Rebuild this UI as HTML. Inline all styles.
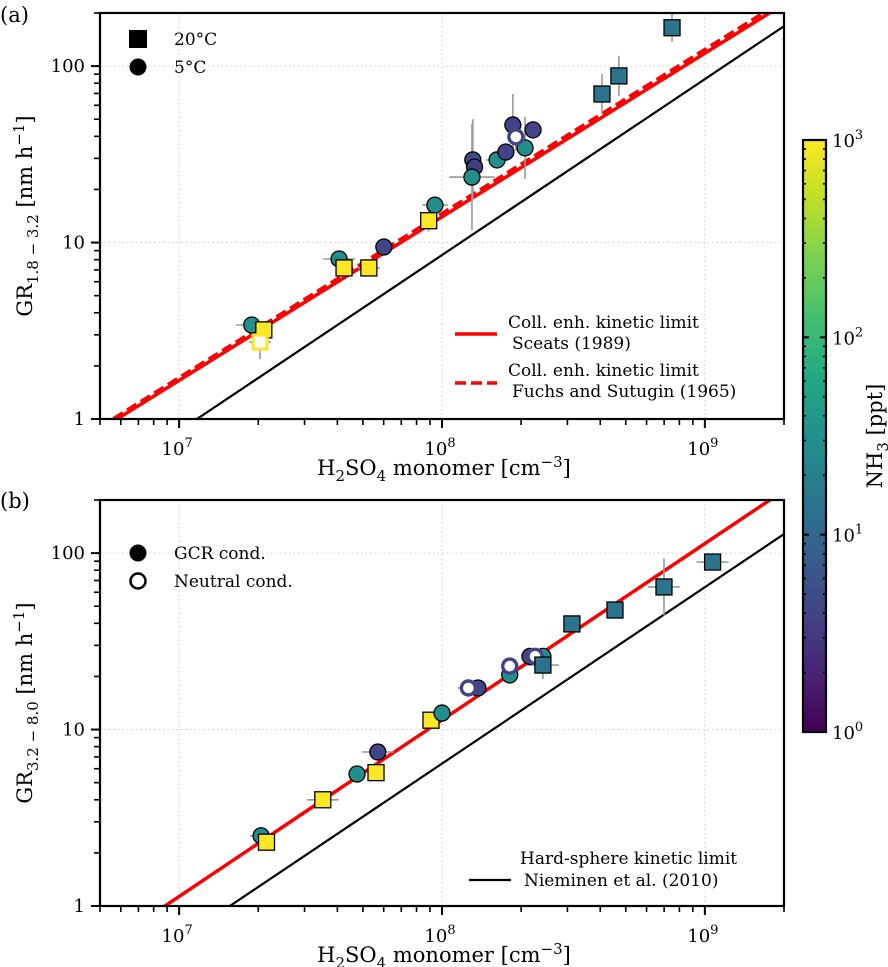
<!DOCTYPE html>
<html><head><meta charset="utf-8"><style>
body{margin:0;background:#fff;width:888px;height:967px;overflow:hidden}
svg{display:block;font-family:"DejaVu Serif","Liberation Serif",serif}
</style></head><body>
<svg id="chart" width="888" height="967" viewBox="0 0 888 967" xmlns="http://www.w3.org/2000/svg"></svg>
<script>
// ---- Panel (a) data ----
const aX=[1.89e7,2.10e7,2.03e7,4.06e7,4.24e7,5.27e7,6.01e7,9.4e7,8.9e7,1.31e8,1.33e8,1.30e8,1.62e8,1.75e8,1.86e8,2.22e8,2.07e8,1.91e8,4.06e8,4.71e8,7.5e8];
const aY=[3.41,3.2,2.73,8.07,7.18,7.18,9.44,16.3,13.3,29.4,26.8,23.5,29.4,32.6,46.4,43.5,34.4,39.7,69.5,88,165];
const aNH3=[30,1000,1000,30,1000,1000,4,30,1000,5,3.5,30,30,4,4,4,30,4,14,14,14];
const aShape=["c","s","s","c","s","s","c","c","s","c","c","c","c","c","c","c","c","c","s","s","s"];
const aOpen=[0,0,1,0,0,0,0,0,0,0,0,0,0,0,0,0,0,1,0,0,0];
const aXErr=[1.15,0,1.1,1.15,0,1.1,1.08,1.12,0,1.05,0,1.22,1.1,0,0,0,0,1.05,1.08,0,0];
const aYErr=[0,0,1.25,1.1,1.1,0,1.12,0,1.15,1.7,0,2.0,0,1.1,1.5,0,1.5,1.2,1.3,1.3,1.2];
// ---- Panel (b) data ----
const bX=[2.05e7,2.15e7,3.52e7,4.75e7,5.61e7,5.70e7,9.08e7,1.0e8,1.37e8,1.26e8,1.81e8,1.81e8,2.16e8,2.42e8,2.26e8,2.42e8,3.12e8,4.55e8,6.99e8,1.07e9];
const bY=[2.5,2.3,4.0,5.6,5.7,7.46,11.3,12.4,17.2,17.2,20.4,22.9,26,26,26,23.2,39.7,47.6,64.3,89];
const bNH3=[30,1000,1000,30,1000,4,1000,30,4,4,30,4,4,30,4,14,14,14,14,14];
const bShape=["c","s","s","c","s","c","s","c","c","c","c","c","c","c","c","s","s","s","s","s"];
const bOpen=[0,0,0,0,0,0,0,0,0,1,0,1,0,0,1,0,0,0,0,0];
const bXErr=[1.1,0,1.15,0,0,1.15,0,0,1.05,1.1,1.05,1.08,1.05,0,0,1.15,0,1.08,1.15,1.15];
const bYErr=[1.1,0,0,0,0,0,0,0,1.05,0,1.08,0,0,0,0,1.2,0,0,1.45,0];
// ---- Kinetic limit lines: [log10 x where y=1, slope] ----
const lineRedA=[6.764,0.927];
const lineRedDashA=[6.748,0.93];
const lineBlackA=[7.068,0.997];
const lineRedB=[6.946,1.0];
const lineBlackB=[7.193,1.0];
const cbTicks=["10","10","10","10"];
const cbExp=["0","1","2","3"];

const svg=document.getElementById('chart');
const NS="http://www.w3.org/2000/svg";
function mk(tag,attrs,parent){const e=document.createElementNS(NS,tag);for(const k in attrs)e.setAttribute(k,attrs[k]);(parent||svg).appendChild(e);return e;}
const X0=100,X1=784,lx0=Math.log10(5e6),lx1=Math.log10(2e9);
const sx=v=>X0+(Math.log10(v)-lx0)/(lx1-lx0)*(X1-X0);
const H=406,ly1=Math.log10(200);
const syF=T=>v=>T+H-Math.log10(v)/ly1*H;
const stops=["#440154","#482475","#414487","#355f8d","#2a788e","#21918c","#22a884","#44bf70","#7ad151","#bddf26","#fde725"];
function hex(h){return [1,3,5].map(i=>parseInt(h.substr(i,2),16));}
function vir(n){let t=Math.max(0,Math.min(1,Math.log10(n)/3))*10;const i=Math.min(9,Math.floor(t)),f=t-i;const a=hex(stops[i]),b=hex(stops[i+1]);return "rgb("+a.map((v,k)=>Math.round(v+(b[k]-v)*f)).join(",")+")";}

function panel(T,name,X,Y,N,S,O,XE,YE,lines){
  const sy=syF(T);
  const g=mk('g',{});
  
  
  [1e7,1e8,1e9].forEach(v=>{const l=mk('line',{x1:sx(v),x2:sx(v),y1:T,y2:T+H,stroke:'#ccc','stroke-width':1,'stroke-dasharray':'1.5,3'},g);});
  [10,100].forEach(v=>{const l=mk('line',{x1:X0,x2:X1,y1:sy(v),y2:sy(v),stroke:'#ccc','stroke-width':1,'stroke-dasharray':'1.5,3'},g);});
  const clip=mk('clipPath',{id:'clip'+name},g);mk('rect',{x:X0,y:T,width:X1-X0,height:H},clip);
  const cg=mk('g',{'clip-path':'url(#clip'+name+')'},g);
  lines.forEach(([p,col,dash,nm])=>{
    const xa=5e6,xb=2e9;const ya=Math.pow(10,p[1]*(Math.log10(xa)-p[0])),yb=Math.pow(10,p[1]*(Math.log10(xb)-p[0]));
    const l=mk('line',{x1:sx(xa),y1:sy(ya),x2:sx(xb),y2:sy(yb),stroke:col,'stroke-width':col=='red'?3.5:2.2,'stroke-dasharray':dash||''},cg);
    
  });
  X.forEach((x,i)=>{
    const px=sx(x),py=sy(Y[i]);
    if(XE[i]){const e=mk('line',{x1:sx(x/XE[i]),x2:sx(x*XE[i]),y1:py,y2:py,stroke:'#999','stroke-width':1.6},cg);}
    if(YE[i]){const e=mk('line',{x1:px,x2:px,y1:sy(Y[i]/YE[i]),y2:sy(Y[i]*YE[i]),stroke:'#999','stroke-width':1.6},cg);}
  });
  X.forEach((x,i)=>{
    const px=sx(x),py=sy(Y[i]),c=vir(N[i]);
    let m;
    if(S[i]=='s'){
      m=O[i]?mk('rect',{x:px-7,y:py-7,width:14,height:14,fill:'#fff',stroke:c,'stroke-width':3},cg)
           :mk('rect',{x:px-8,y:py-8,width:16,height:16,fill:c,stroke:'#000','stroke-width':1.3},cg);
    }else{
      m=O[i]?mk('circle',{cx:px,cy:py,r:7,fill:'#fff',stroke:c,'stroke-width':3.4},cg)
           :mk('circle',{cx:px,cy:py,r:8,fill:c,stroke:'#000','stroke-width':1.3},cg);
    }
    
    
  });
  const fr=mk('rect',{x:X0,y:T,width:X1-X0,height:H,fill:'none',stroke:'#000','stroke-width':2.2},g);
  
  for(let e=6;e<=9;e++)for(let k=1;k<10;k++){const v=k*Math.pow(10,e);if(v<5e6||v>2e9)continue;const x=sx(v),maj=k==1;
    const t=mk('line',{x1:x,x2:x,y1:T+H,y2:T+H+(maj?9:6),stroke:'#000','stroke-width':maj?2:1.6},g);
    if(maj){const tx=mk('text',{x:x-2,y:T+H+36,'font-size':18,'text-anchor':'middle'},g);tx.innerHTML='10<tspan dy="-8" font-size="13">'+e+'</tspan>';}}
  for(let e=0;e<=2;e++)for(let k=1;k<10;k++){const v=k*Math.pow(10,e);if(v>200)continue;const y=sy(v),maj=k==1;
    const t=mk('line',{x1:X0-(maj?9:6),x2:X0,y1:y,y2:y,stroke:'#000','stroke-width':maj?2:1.6},g);
    if(maj){const tx=mk('text',{x:X0-15,y:y+6,'font-size':18,'text-anchor':'end'},g);tx.textContent=String(v);}}
  const xl=mk('text',{x:444,y:T+H+56,'font-size':21,'text-anchor':'middle'},g);
  xl.innerHTML='H<tspan dy="6" font-size="15">2</tspan><tspan dy="-6">SO</tspan><tspan dy="6" font-size="15">4</tspan><tspan dy="-6"> monomer [cm</tspan><tspan dy="-8" font-size="15">−3</tspan><tspan dy="8">]</tspan>';
  
  return g;
}
panel(13,'panel-a',aX,aY,aNH3,aShape,aOpen,aXErr,aYErr,[[lineBlackA,'#000','','hard-sphere-line'],[lineRedDashA,'red','11,5','fuchs-sutugin-line'],[lineRedA,'red','','sceats-line']]);
panel(500,'panel-b',bX,bY,bNH3,bShape,bOpen,bXErr,bYErr,[[lineBlackB,'#000','','hard-sphere-line'],[lineRedB,'red','','sceats-line']]);

function txt(x,y,s,html,attrs,name){const t=mk('text',Object.assign({x:x,y:y,'font-size':s},attrs||{}));t.innerHTML=html;return t;}
txt(0,22,21,'(a)',{},'panel-a-label');
txt(0,508,21,'(b)',{},'panel-b-label');
txt(0,0,21,'GR<tspan dy="6" font-size="15">1.8 − 3.2</tspan><tspan dy="-6"> [nm h</tspan><tspan dy="-8" font-size="15">−1</tspan><tspan dy="8">]</tspan>',{transform:'translate(32,216) rotate(-90)','text-anchor':'middle'},'y-axis-title-a');
txt(0,0,21,'GR<tspan dy="6" font-size="15">3.2 − 8.0</tspan><tspan dy="-6"> [nm h</tspan><tspan dy="-8" font-size="15">−1</tspan><tspan dy="8">]</tspan>',{transform:'translate(32,703) rotate(-90)','text-anchor':'middle'},'y-axis-title-b');
let m;
m=mk('rect',{x:129,y:30,width:18,height:18,fill:'#000'});
txt(174,45,17,'20°C',{},'legend-label-20c');
m=mk('circle',{cx:138,cy:67,r:8.5,fill:'#000'});
txt(174,73,17,'5°C',{},'legend-label-5c');
m=mk('line',{x1:455,x2:497,y1:334,y2:334,stroke:'red','stroke-width':3.5});
txt(508,328,17,'Coll. enh. kinetic limit',{},'legend-label-sceats-1');
txt(512,349,17,'Sceats (1989)',{},'legend-label-sceats-2');
m=mk('line',{x1:455,x2:497,y1:383,y2:383,stroke:'red','stroke-width':3.5,'stroke-dasharray':'11,5'});
txt(508,376,17,'Coll. enh. kinetic limit',{},'legend-label-fuchs-1');
txt(512,397,17,'Fuchs and Sutugin (1965)',{},'legend-label-fuchs-2');
m=mk('circle',{cx:138,cy:553,r:8.5,fill:'#000'});
txt(174,559,17,'GCR cond.',{},'legend-label-gcr');
m=mk('circle',{cx:138,cy:581,r:7.5,fill:'#fff',stroke:'#000','stroke-width':2.5});
txt(174,587,17,'Neutral cond.',{},'legend-label-neutral');
m=mk('line',{x1:469,x2:511,y1:880,y2:880,stroke:'#000','stroke-width':2.2});
txt(520,864,17,'Hard-sphere kinetic limit',{},'legend-label-nieminen-1');
txt(524,886,17,'Nieminen et al. (2010)',{},'legend-label-nieminen-2');
// colorbar
const defs=mk('defs',{});const lg=mk('linearGradient',{id:'vg',x1:0,y1:1,x2:0,y2:0},defs);
stops.forEach((c,i)=>mk('stop',{offset:(i/10),'stop-color':c},lg));
m=mk('rect',{x:803,y:140,width:23,height:592,fill:'url(#vg)',stroke:'#000','stroke-width':2.2});
const cbY=v=>732-v/3*592;
for(let e=0;e<3;e++)for(let k=2;k<10;k++){const y=cbY(e+Math.log10(k));
  m=mk('line',{x1:803,x2:806,y1:y,y2:y,stroke:'#000','stroke-width':1.6});
  m=mk('line',{x1:823,x2:826,y1:y,y2:y,stroke:'#000','stroke-width':1.6});}
for(let e=0;e<=3;e++){const y=cbY(e);
  m=mk('line',{x1:803,x2:809,y1:y,y2:y,stroke:'#000','stroke-width':2});
  m=mk('line',{x1:820,x2:826,y1:y,y2:y,stroke:'#000','stroke-width':2});}
cbExp.forEach((ex,i)=>{txt(832,cbY(i)+7,18,cbTicks[i]+'<tspan dy="-8" font-size="13">'+ex+'</tspan>',{},'colorbar-tick-label');});
txt(0,0,21,'NH<tspan dy="6" font-size="15">3</tspan><tspan dy="-6"> [ppt]</tspan>',{transform:'translate(882,436) rotate(-90)','text-anchor':'middle'},'colorbar-title');
</script>
</body></html>
